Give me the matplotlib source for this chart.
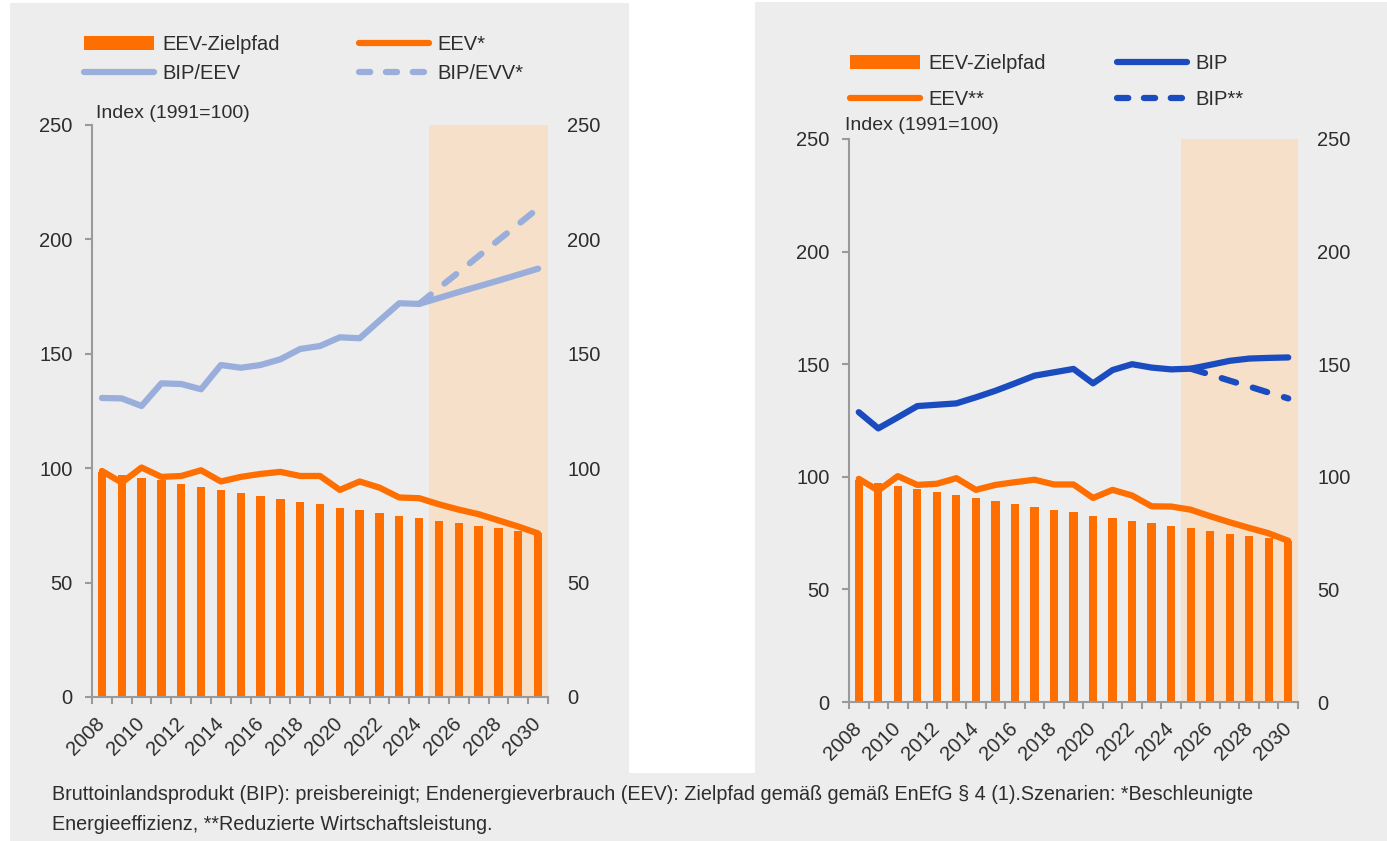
import matplotlib
matplotlib.use("Agg")
import matplotlib.pyplot as plt
from matplotlib.lines import Line2D
from matplotlib.patches import Patch, Rectangle

W, H = 1387, 841
plt.rcParams['font.family'] = ['Liberation Sans', 'DejaVu Sans']

# --- data (index 1991 = 100) ---
years = list(range(2008, 2031))
eev_zielpfad = [98.5, 97.1, 95.9, 94.7, 93.1, 91.7, 90.5, 89.1, 87.9, 86.7, 85.4, 84.2,
                82.8, 81.6, 80.4, 79.3, 78.2, 77.1, 75.9, 74.7, 73.9, 72.7, 71.5]
eev_star = [98.8, 93.7, 100.3, 96.2, 96.6, 99.1, 94.2, 96.2, 97.5, 98.4, 96.6, 96.6,
            90.5, 94.2, 91.5, 87.2, 86.9, 84.2, 81.9, 79.9, 77.2, 74.5, 71.5]
bip_eev = [130.7, 130.5, 127.2, 137.1, 136.8, 134.5, 145.1, 143.9, 145.1, 147.6, 152.1, 153.4,
           157.2, 156.8, 164.5, 172.1, 171.8, 174.4, 177.0, 179.5, 182.0, 184.6, 187.2]
years_evv_star = list(range(2024, 2031))
bip_evv_star = [171.8, 178.8, 185.7, 192.7, 199.7, 206.6, 213.6]

eev_2star = [99.1, 93.9, 100.3, 96.4, 96.9, 99.4, 94.2, 96.4, 97.6, 98.7, 96.6, 96.6,
             90.6, 94.2, 91.7, 86.9, 86.8, 85.4, 82.5, 79.8, 77.3, 74.9, 71.6]
bip = [128.7, 121.5, 126.4, 131.4, 132.0, 132.6, 135.3, 138.2, 141.5, 144.9, 146.4, 147.9,
       141.5, 147.4, 150.0, 148.5, 147.7, 148.0, 149.7, 151.5, 152.5, 152.8, 153.0]
years_bip_2star = list(range(2025, 2031))
bip_2star = [148.0, 145.4, 142.7, 140.1, 137.4, 134.8]

label_years = list(range(2008, 2031, 2))
yticks = [0, 50, 100, 150, 200, 250]

ORANGE = "#ff6e00"
LIGHTBLUE = "#9aaedb"
DARKBLUE = "#1a4cbf"
SHADE = "#f6e0ca"
BG = "#ededed"
TEXT = "#2d2d2d"
AXIS = "#9a9a9a"
FS = 14.5

caption_1 = ("Bruttoinlandsprodukt (BIP): preisbereinigt; Endenergieverbrauch (EEV): Zielpfad gemäß "
             "gemäß EnEfG § 4 (1).Szenarien: *Beschleunigte")
caption_2 = "Energieeffizienz, **Reduzierte Wirtschaftsleistung."


def px_rect(x0, y0, x1, y1):
    return [x0 / W, 1 - y1 / H, (x1 - x0) / W, (y1 - y0) / H]


def bg_rect(fig, x0, y0, x1, y1):
    l, b, w, h = px_rect(x0, y0, x1, y1)
    fig.patches.append(Rectangle((l, b), w, h, transform=fig.transFigure,
                                 facecolor=BG, edgecolor="none", zorder=-10))


def style_axes(ax):
    ax.set_facecolor("none")
    ax.set_xlim(2007.5, 2030.5)
    ax.set_ylim(0, 250)
    for s in ("top", "right"):
        ax.spines[s].set_visible(False)
    for s in ("left", "bottom"):
        ax.spines[s].set_color(AXIS)
        ax.spines[s].set_linewidth(1.5)
    ax.set_yticks(yticks)
    ax.tick_params(axis="y", colors=AXIS, labelcolor=TEXT, labelsize=FS, length=5,
                   width=1.5, pad=9, right=False, labelright=True)
    # tick marks at category boundaries, labels at year centres
    ax.set_xticks([y - 0.5 for y in years] + [2030.5])
    ax.set_xticklabels([])
    ax.tick_params(axis="x", which="major", colors=AXIS, length=5, width=1.5)
    ax.set_xticks(label_years, minor=True)
    ax.set_xticklabels([str(y) for y in label_years], minor=True, rotation=45,
                       ha="right", va="center", rotation_mode="anchor")
    ax.tick_params(axis="x", which="minor", length=0, pad=17, labelsize=FS, labelcolor=TEXT)
    ax.axvspan(2024.5, 2030.5, color=SHADE, zorder=0, lw=0)


fig = plt.figure(figsize=(W / 100, H / 100), dpi=100, facecolor="white")
bg_rect(fig, 10, 3, 629, 841)
bg_rect(fig, 755, 2, 1387, 841)
bg_rect(fig, 10, 773, 1387, 841)

line_kw = dict(lw=4.5, solid_capstyle="round", solid_joinstyle="round")
dash_kw = dict(lw=4.5, dashes=(2.4, 2.8), dash_capstyle="round")
leg_dash_kw = dict(lw=4.5, dashes=(1.8, 2.5), dash_capstyle="round")

# left panel: accelerated energy efficiency
ax1 = fig.add_axes(px_rect(92, 125, 548, 697))
style_axes(ax1)
ax1.bar(years, eev_zielpfad, width=0.42, color=ORANGE, zorder=2)
ax1.plot(years, eev_star, color=ORANGE, zorder=3, **line_kw)
ax1.plot(years_evv_star, bip_evv_star, color=LIGHTBLUE, zorder=3, **dash_kw)
ax1.plot(years, bip_eev, color=LIGHTBLUE, zorder=4, **line_kw)

# right panel: reduced economic output
ax2 = fig.add_axes(px_rect(849, 139, 1298, 702))
style_axes(ax2)
ax2.bar(years, eev_zielpfad, width=0.42, color=ORANGE, zorder=2)
ax2.plot(years, eev_2star, color=ORANGE, zorder=3, **line_kw)
ax2.plot(years_bip_2star, bip_2star, color=DARKBLUE, zorder=3, **dash_kw)
ax2.plot(years, bip, color=DARKBLUE, zorder=4, **line_kw)

fig.text(96 / W, 1 - 114 / H, "Index (1991=100)", fontsize=14, color=TEXT, va="center")
fig.text(845 / W, 1 - 126 / H, "Index (1991=100)", fontsize=14, color=TEXT, va="center")

h_bar = Patch(facecolor=ORANGE, edgecolor="none")
h_eev = Line2D([], [], color=ORANGE, **line_kw)
h_bipeev = Line2D([], [], color=LIGHTBLUE, **line_kw)
h_bipevv = Line2D([], [], color=LIGHTBLUE, **leg_dash_kw)
h_bip = Line2D([], [], color=DARKBLUE, **line_kw)
h_bip2 = Line2D([], [], color=DARKBLUE, **leg_dash_kw)

leg_kw = dict(loc="upper left", ncol=2, frameon=False, fontsize=FS, handlelength=3.5,
              handleheight=0.75, handletextpad=0.4, borderpad=0, borderaxespad=0,
              labelcolor=TEXT)
fig.legend([h_bar, h_bipeev, h_eev, h_bipevv],
           ["EEV-Zielpfad", "BIP/EEV", "EEV*", "BIP/EVV*"],
           bbox_to_anchor=(84 / W, 1 - 35 / H), columnspacing=3.9, labelspacing=0.5, **leg_kw)
fig.legend([h_bar, h_eev, h_bip, h_bip2],
           ["EEV-Zielpfad", "EEV**", "BIP", "BIP**"],
           bbox_to_anchor=(850 / W, 1 - 54 / H), columnspacing=3.5, labelspacing=0.85, **leg_kw)

fig.text(52 / W, 1 - 795 / H, caption_1, fontsize=14.2, color=TEXT, va="center")
fig.text(52 / W, 1 - 825 / H, caption_2, fontsize=14.2, color=TEXT, va="center")

fig.savefig("out.png", dpi=100, facecolor="white")
